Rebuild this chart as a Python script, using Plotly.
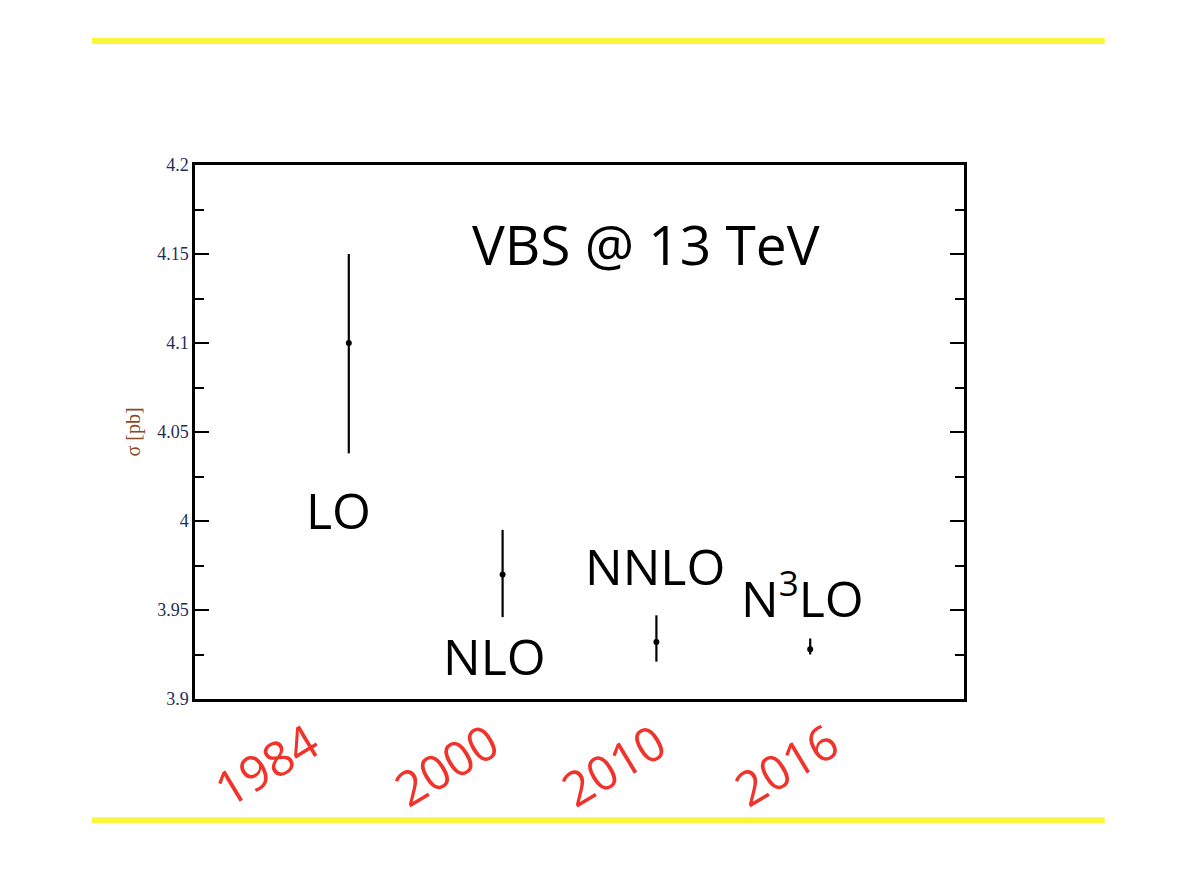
import plotly.graph_objects as go

orders = ["LO", "NLO", "NNLO", "N<sup>3</sup>LO"]
order_pos = [1, 2, 3, 4]
sigma = [4.100, 3.970, 3.932, 3.928]
err_plus = [0.050, 0.025, 0.015, 0.006]
err_minus = [0.062, 0.024, 0.011, 0.003]
years = ["1984", "2000", "2010", "2016"]
y_ticks = [3.9, 3.95, 4.0, 4.05, 4.1, 4.15, 4.2]
y_tick_text = ["3.9", "3.95", "4", "4.05", "4.1", "4.15", "4.2"]
title_text = "VBS @ 13 TeV"

fig = go.Figure()
fig.add_trace(go.Scatter(
    x=order_pos, y=sigma, mode="markers",
    marker=dict(color="black", size=6),
    error_y=dict(type="data", array=err_plus, arrayminus=err_minus,
                 symmetric=False, color="black", thickness=2.2, width=0),
    showlegend=False, hoverinfo="skip",
))

sans = "'Open Sans', Lato, sans-serif"
label_font = dict(family=sans, size=50, color="black")
label_offsets = [(-0.07, -0.094), (-0.05, -0.046), (-0.01, 0.043), (-0.05, 0.030)]
for name, xp, yv, (dx, dy) in zip(orders, order_pos, sigma, label_offsets):
    fig.add_annotation(x=xp + dx, y=yv + dy, xref="x", yref="y", text=name,
                       showarrow=False, font=label_font)

fig.add_annotation(x=2.93, y=4.156, xref="x", yref="y", text=title_text,
                   showarrow=False, font=dict(family=sans, size=55, color="black"))

year_x = [0.46, 1.63, 2.72, 3.84]
for yr, xp in zip(years, year_x):
    fig.add_annotation(x=xp, xref="x", y=-0.122, yref="paper", text=yr, textangle=-31,
                       xanchor="center", yanchor="middle", showarrow=False,
                       font=dict(family=sans, size=48, color="#f0332b"))

for yp in [1.232, -0.227]:
    fig.add_shape(type="line", xref="paper", yref="paper", x0=-0.134, x1=1.183,
                  y0=yp, y1=yp, line=dict(color="#fbf53c", width=6))

fig.update_xaxes(range=[0, 5], showticklabels=False, ticks="", showgrid=False,
                 zeroline=False, showline=True, linecolor="black", linewidth=2.5, mirror=True)
fig.update_yaxes(range=[3.9, 4.2], tickvals=y_ticks, ticktext=y_tick_text,
                 ticks="inside", ticklen=14, tickwidth=2, tickcolor="black",
                 minor=dict(ticks="inside", ticklen=9, tickwidth=2, tickcolor="black", dtick=0.025, showgrid=False),
                 showgrid=False, zeroline=False, showline=True, linecolor="black",
                 linewidth=2.5, mirror="ticks",
                 tickfont=dict(family="Liberation Serif, serif", size=18, color="#1f2d5c"),
                 title=dict(text="σ [pb]", font=dict(family="Liberation Serif, serif", size=20, color="#8a4a2a"),
                            standoff=12))

fig.update_layout(width=1178, height=890, plot_bgcolor="white", paper_bgcolor="white",
                  margin=dict(l=187, r=222, t=157, b=199))

fig.write_html("out.html")
